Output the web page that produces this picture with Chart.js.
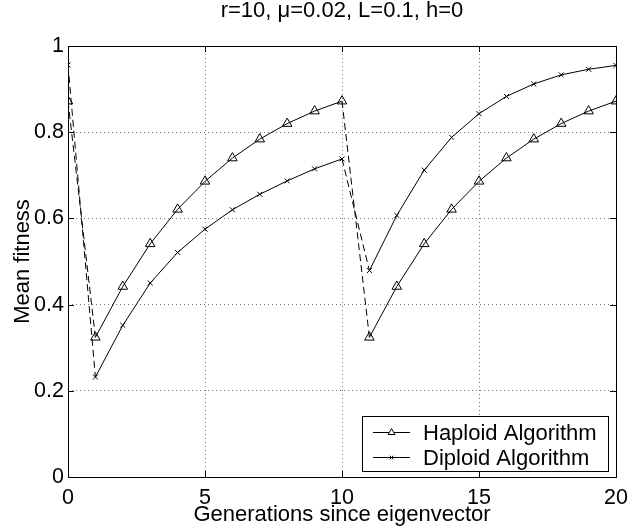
<!DOCTYPE html>
<html>
<head>
<meta charset="utf-8">
<script src="https://cdn.jsdelivr.net/npm/chart.js@4"></script>
<style>
html,body{margin:0;padding:0;background:#fff;}
#wrap{width:629px;height:527px;position:relative;}
</style>
</head>
<body>
<div id="wrap"><canvas id="c" width="629" height="527"></canvas></div>
<script>
const generations = [0,1,2,3,4,5,6,7,8,9,10,11,12,13,14,15,16,17,18,19,20];
const haploid = [0.872,0.324,0.442,0.541,0.621,0.686,0.740,0.784,0.820,0.849,0.872,0.324,0.442,0.541,0.621,0.686,0.740,0.784,0.820,0.849,0.872];
const diploid = [0.956,0.232,0.352,0.450,0.521,0.575,0.620,0.656,0.687,0.715,0.738,0.479,0.607,0.712,0.788,0.843,0.883,0.912,0.933,0.946,0.955];
const xTicks = [0,5,10,15,20];
const xTickLabels = ['0','5','10','15','20'];
const yTicks = [0,0.2,0.4,0.6,0.8,1];
const yTickLabels = ['0','0.2','0.4','0.6','0.8','1'];
const dashedFrom = [0,10];
const seriesNames = ['Haploid Algorithm','Diploid Algorithm'];
const titleText = 'r=10, \u03bc=0.02, L=0.1, h=0';
const xTitle = 'Generations since eigenvector';
const yTitle = 'Mean fitness';

const FONT = '"Liberation Sans", Arial, Helvetica, sans-serif';

const toPts = arr => generations.map((g,i)=>({x:g,y:arr[i]}));
const dashSeg = {
  borderDash: ctx => dashedFrom.includes(ctx.p0.parsed.x) ? [7,4] : undefined
};

const framePlugin = {
  id:'frame',
  afterDraw(chart){
    const {ctx, chartArea:a, scales} = chart;
    const xs = scales.x, ys = scales.y;
    ctx.save();
    ctx.fillStyle='#000';
    ctx.font = '22px '+FONT;
    ctx.textAlign='center';
    ctx.textBaseline='alphabetic';
    ctx.fillText(titleText,(a.left+a.right)/2,17);
    ctx.strokeStyle='#000'; ctx.lineWidth=1;
    ctx.strokeRect(Math.round(a.left)+0.5, Math.round(a.top)+0.5, Math.round(a.right-a.left), Math.round(a.bottom-a.top));
    const tl = 6;
    ctx.beginPath();
    xTicks.forEach(v=>{
      const px = Math.round(xs.getPixelForValue(v))+0.5;
      ctx.moveTo(px,a.bottom); ctx.lineTo(px,a.bottom-tl);
      ctx.moveTo(px,a.top); ctx.lineTo(px,a.top+tl);
    });
    yTicks.forEach(v=>{
      const py = Math.round(ys.getPixelForValue(v))+0.5;
      ctx.moveTo(a.left,py); ctx.lineTo(a.left+tl,py);
      ctx.moveTo(a.right,py); ctx.lineTo(a.right-tl,py);
    });
    ctx.stroke();
    const lx=362, ly=416, lw=246, lh=55;
    ctx.fillStyle='#fff';
    ctx.fillRect(lx,ly,lw,lh);
    ctx.strokeRect(lx+0.5,ly+0.5,lw,lh);
    const ds = chart.data.datasets;
    const rows=[432,457];
    ctx.font = '22px '+FONT;
    ctx.textAlign='left';
    ctx.textBaseline='middle';
    ds.forEach((d,i)=>{
      const y = rows[i]+0.5;
      ctx.strokeStyle='#000'; ctx.lineWidth=1;
      ctx.beginPath(); ctx.moveTo(373,y); ctx.lineTo(410,y); ctx.stroke();
      Chart.helpers.drawPoint(ctx,{pointStyle:d.pointStyle,radius:i===0?4:2.5,borderWidth:1,rotation:0},391.5,y);
      ctx.fillStyle='#000';
      ctx.fillText(seriesNames[i],423,y+1);
    });
    ctx.restore();
  }
};

new Chart(document.getElementById('c'),{
  type:'line',
  data:{datasets:[
    {label:seriesNames[0],data:toPts(haploid),borderColor:'#000',borderWidth:1,pointStyle:'triangle',pointRadius:5.5,pointBorderColor:'#000',pointBackgroundColor:'rgba(0,0,0,0)',pointBorderWidth:1,tension:0,segment:dashSeg},
    {label:seriesNames[1],data:toPts(diploid),borderColor:'#000',borderWidth:1,pointStyle:'crossRot',pointRadius:3.5,pointBorderColor:'#000',pointBorderWidth:1,tension:0,segment:dashSeg}
  ]},
  options:{
    responsive:false,animation:false,
    layout:{padding:{top:46,right:13,bottom:0,left:0}},
    plugins:{legend:{display:false},tooltip:{enabled:false},title:{display:false}},
    scales:{
      x:{type:'linear',min:0,max:20,
        afterBuildTicks:s=>{s.ticks=xTicks.map(v=>({value:v}));},
        afterFit:s=>{s.height=50; s.paddingLeft=0; s.paddingRight=0;},
        ticks:{callback:(v)=>xTickLabels[xTicks.indexOf(v)],font:{family:FONT,size:21.5},color:'#000',padding:8,maxRotation:0,autoSkip:false},
        grid:{color:'#777',drawTicks:false,lineWidth:1},
        border:{display:false,dash:[1,3]},
        title:{display:true,text:xTitle,font:{family:FONT,size:22,lineHeight:1},color:'#000',padding:{top:0,bottom:1}}
      },
      y:{type:'linear',min:0,max:1,
        afterBuildTicks:s=>{s.ticks=yTicks.map(v=>({value:v}));},
        afterFit:s=>{s.width=68; s.paddingTop=0; s.paddingBottom=0;},
        ticks:{callback:(v)=>yTickLabels[yTicks.indexOf(v)],font:{family:FONT,size:21.5},color:'#000',padding:4,autoSkip:false},
        grid:{color:'#777',drawTicks:false,lineWidth:1},
        border:{display:false,dash:[1,3]},
        title:{display:true,text:yTitle,font:{family:FONT,size:22,lineHeight:1},color:'#000',padding:{top:11.5,bottom:0}}
      }
    }
  },
  plugins:[framePlugin]
});
</script>
</body>
</html>
